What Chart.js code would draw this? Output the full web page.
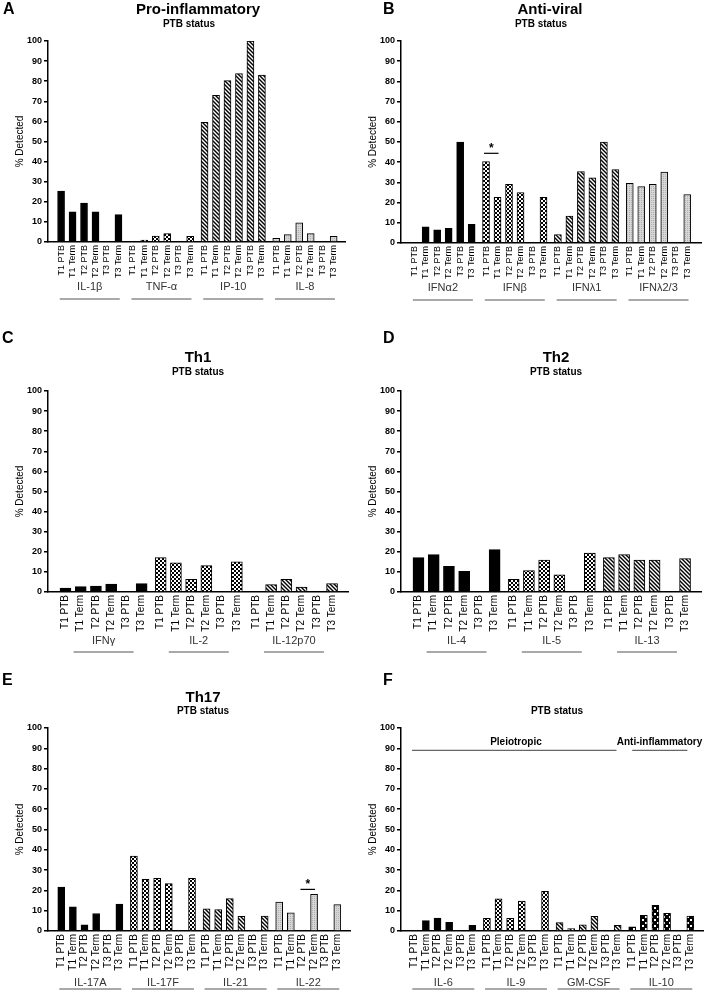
<html>
<head>
<title>PTB status cytokines</title>
<script src="https://cdn.jsdelivr.net/npm/chart.js@4.4.1/dist/chart.umd.min.js"></script>
<style>
  body { margin: 0; background: #fff; }
  canvas { position: absolute; }
</style>
</head>
<body>
<canvas id="a" width="353" height="330" style="left:0;top:0"></canvas>
<canvas id="b" width="354" height="330" style="left:353px;top:0"></canvas>
<canvas id="c" width="353" height="330" style="left:0;top:330px"></canvas>
<canvas id="d" width="354" height="330" style="left:353px;top:330px"></canvas>
<canvas id="e" width="353" height="331" style="left:0;top:660px"></canvas>
<canvas id="f" width="354" height="331" style="left:353px;top:660px"></canvas>
<script>
    // x labels, same six for every cytokine
    var timepoints = ['T1 PTB', 'T1 Term', 'T2 PTB', 'T2 Term', 'T3 PTB', 'T3 Term'];

    // A - pro-inflammatory
    var proGroups = ['IL-1β', 'TNF-α', 'IP-10', 'IL-8'];
    var il1b = [25.3, 15, 19.4, 15, 0, 13.6];
    var tnfa = [0, 1, 3, 4.2, 0, 2.8];
    var ip10 = [59.5, 73, 80.3, 83.8, 100, 83];
    var il8 = [1.8, 3.7, 9.5, 4.2, 0, 2.8];

    // B - anti-viral
    var viralGroups = ['IFNα2', 'IFNβ', 'IFNλ1', 'IFNλ2/3'];
    var ifna2 = [0, 8, 6.5, 7.3, 50, 9.2];
    var ifnb = [40.3, 22.6, 29, 25, 0, 22.6];
    var ifnl1 = [4.2, 13.3, 35.4, 32.3, 50, 36.3];
    var ifnl23 = [29.6, 27.9, 29, 35.1, 0, 24];

    // C - Th1
    var th1Groups = ['IFNγ', 'IL-2', 'IL-12p70'];
    var ifng = [2, 2.7, 3, 4, 0, 4.2];
    var il2 = [17.1, 14.5, 6.3, 13.1, 0, 15];
    var il12p70 = [0, 3.7, 6.3, 2.5, 0, 4.2];

    // D - Th2
    var th2Groups = ['IL-4', 'IL-5', 'IL-13'];
    var il4 = [17.1, 18.6, 12.8, 10.3, 0, 21.1];
    var il5 = [6.3, 10.6, 15.9, 8.6, 0, 19.4];
    var il13 = [17.1, 18.6, 15.9, 15.9, 0, 16.6];

    // E - Th17
    var th17Groups = ['IL-17A', 'IL-17F', 'IL-21', 'IL-22'];
    var il17a = [21.6, 11.9, 3.1, 8.6, 0, 13.3];
    var il17f = [36.9, 25.4, 25.9, 23.4, 0, 25.9];
    var il21 = [10.9, 10.5, 16, 7.2, 0, 7.4];
    var il22 = [14.2, 8.9, 0, 18.1, 0, 13];

    // F - pleiotropic / anti-inflammatory
    var otherGroups = ['IL-6', 'IL-9', 'GM-CSF', 'IL-10'];
    var il6 = [0, 5.1, 6.4, 4.3, 0, 2.8];
    var il9 = [6.3, 15.8, 6.3, 14.7, 0, 19.6];
    var gmcsf = [4.1, 1.2, 3.1, 7.2, 0, 2.8];
    var il10 = [2, 7.7, 12.7, 8.7, 0, 7.4];

    // significance bars: group, from, to, y
    var ifnbSig = [1, 0, 1, 44.4];
    var il22Sig = [3, 2, 3, 20.5];

    var gap = 6.25;
    var fam = '"Liberation Sans", Arial, sans-serif';

    // fill patterns
    function tile(size, draw) {
        var c = document.createElement('canvas');
        c.width = c.height = size;
        var x = c.getContext('2d');
        draw(x);
        return x.createPattern(c, 'repeat');
    }
    var solid = '#000';
    var checker = tile(4, function (x) {
        x.fillStyle = '#000'; x.fillRect(0, 0, 4, 4);
        x.fillStyle = '#fff'; x.fillRect(0, 0, 2, 2); x.fillRect(2, 2, 2, 2);
    });
    var stripes = tile(4, function (x) {
        x.fillStyle = '#fff'; x.fillRect(0, 0, 4, 4);
        x.strokeStyle = '#000'; x.lineWidth = 1.4;
        [-4, 0, 4].forEach(function (o) {
            x.beginPath(); x.moveTo(o - 1, -1); x.lineTo(o + 5, 5); x.stroke();
        });
    });
    var grey = tile(2, function (x) {
        x.fillStyle = '#d6d6d6'; x.fillRect(0, 0, 2, 2);
        x.fillStyle = '#b0b0b0'; x.fillRect(0, 0, 1, 1);
    });
    var dots = tile(6, function (x) {
        x.fillStyle = '#000'; x.fillRect(0, 0, 6, 6);
        x.fillStyle = '#fff'; x.fillRect(1, 1, 2, 2); x.fillRect(4, 4, 2, 2);
    });

    // draws letters, titles, group names, underlines and stars
    var decor = {
        id: 'decor',
        afterDraw: function (chart, args, o) {
            var ctx = chart.ctx, xs = chart.scales.x, ys = chart.scales.y, area = chart.chartArea;
            ctx.save();
            ctx.fillStyle = '#000';
            ctx.textBaseline = 'middle';
            ctx.textAlign = 'left';
            ctx.font = 'bold 16px ' + fam;
            ctx.fillText(o.letter[0], o.letter[1], o.letter[2]);
            ctx.textAlign = 'center';
            if (o.title) {
                ctx.font = 'bold 15px ' + fam;
                ctx.fillText(o.title[0], o.title[1], o.title[2]);
            }
            ctx.font = 'bold 10px ' + fam;
            ctx.fillText('PTB status', o.sub[0], o.sub[1]);

            ctx.font = '11px ' + fam;
            ctx.fillStyle = '#333';
            ctx.strokeStyle = '#555';
            ctx.lineWidth = 1.2;
            o.groups.forEach(function (name, g) {
                var cx = xs.getPixelForValue(g * gap + 2.5);
                ctx.fillText(name, cx, area.bottom + o.labelDy);
                ctx.beginPath();
                ctx.moveTo(cx - o.lineW / 2, area.bottom + o.lineDy);
                ctx.lineTo(cx + o.lineW / 2, area.bottom + o.lineDy);
                ctx.stroke();
            });

            ctx.fillStyle = '#000';
            ctx.strokeStyle = '#000';
            (o.stars || []).forEach(function (s) {
                var x1 = xs.getPixelForValue(s[0] * gap + s[1]) - 2;
                var x2 = xs.getPixelForValue(s[0] * gap + s[2]) + 1;
                var yy = ys.getPixelForValue(s[3]);
                ctx.beginPath(); ctx.moveTo(x1, yy); ctx.lineTo(x2, yy); ctx.stroke();
                ctx.font = 'bold 12px ' + fam;
                ctx.fillText('*', (x1 + x2) / 2, yy - 5);
            });

            (o.spans || []).forEach(function (s) {
                var x1 = xs.getPixelForValue(s[1]);
                var x2 = xs.getPixelForValue(s[2]);
                var yy = ys.getPixelForValue(s[3]);
                ctx.strokeStyle = '#666';
                ctx.beginPath(); ctx.moveTo(x1, yy); ctx.lineTo(x2, yy); ctx.stroke();
                ctx.font = 'bold 10px ' + fam;
                ctx.fillStyle = '#000';
                ctx.fillText(s[0], xs.getPixelForValue(s[4]), yy - 8);
            });
            ctx.restore();
        }
    };

    function panel(id, groups, series, fills, opt, deco) {
        var pos = [];
        groups.forEach(function (g, gi) {
            timepoints.forEach(function (t, i) { pos.push(gi * gap + i); });
        });
        var datasets = series.map(function (vals, gi) {
            return {
                label: groups[gi],
                data: vals.map(function (v, i) { return { x: gi * gap + i, y: v }; }),
                backgroundColor: fills[gi],
                borderColor: '#000',
                borderWidth: 1,
                barThickness: opt.bar,
                grouped: false
            };
        });
        deco.groups = groups;
        new Chart(document.getElementById(id), {
            type: 'bar',
            data: { datasets: datasets },
            options: {
                responsive: false,
                animation: false,
                layout: { padding: { top: opt.top, left: 10, right: opt.right, bottom: 0 } },
                plugins: { legend: { display: false }, tooltip: { enabled: false }, decor: deco },
                scales: {
                    x: {
                        type: 'linear', min: -0.6, max: opt.xmax, bounds: 'data',
                        grid: { display: false, drawTicks: false },
                        border: { color: '#000', width: 1.5 },
                        afterBuildTicks: function (s) { s.ticks = pos.map(function (v) { return { value: v }; }); },
                        afterFit: function (s) { s.height = opt.xh; },
                        ticks: {
                            autoSkip: false, minRotation: 90, maxRotation: 90, padding: 3,
                            color: '#000', font: { size: opt.lab, family: fam },
                            callback: function (v, i) { return timepoints[i % 6]; }
                        }
                    },
                    y: {
                        min: 0, max: 100,
                        ticks: { stepSize: 10, color: '#000', padding: 2, font: { size: 9, weight: 'bold', family: fam } },
                        grid: { drawOnChartArea: false, tickLength: 4, color: '#000', lineWidth: 1.5 },
                        border: { color: '#000', width: 1.5 },
                        title: { display: true, text: '% Detected', color: '#000', font: { size: 10, family: fam } },
                        afterFit: function (s) { s.width = 38; }
                    }
                }
            },
            plugins: [decor]
        });
    }

    panel('a', proGroups, [il1b, tnfa, ip10, il8], [solid, checker, stripes, grey],
        { top: 41, right: 8, xmax: 24.2, xh: 88, bar: 7, lab: 9 },
        { letter: ['A', 3, 10], title: ['Pro-inflammatory', 198, 10], sub: [189, 24], labelDy: 45, lineDy: 57, lineW: 60 });

    panel('b', viralGroups, [ifna2, ifnb, ifnl1, ifnl23], [solid, checker, stripes, grey],
        { top: 41, right: 6, xmax: 24.4, xh: 87, bar: 7, lab: 9 },
        { letter: ['B', 30, 10], title: ['Anti-viral', 197, 10], sub: [188, 24], labelDy: 45, lineDy: 57, lineW: 60, stars: [ifnbSig] });

    panel('c', th1Groups, [ifng, il2, il12p70], [solid, checker, stripes],
        { top: 61, right: 5, xmax: 18.0, xh: 68, bar: 11, lab: 10 },
        { letter: ['C', 2, 9], title: ['Th1', 198, 28], sub: [198, 42], labelDy: 49, lineDy: 60, lineW: 60 });

    panel('d', th2Groups, [il4, il5, il13], [solid, checker, stripes],
        { top: 61, right: 6, xmax: 18.0, xh: 68, bar: 11, lab: 10 },
        { letter: ['D', 30, 9], title: ['Th2', 203, 28], sub: [203, 42], labelDy: 49, lineDy: 60, lineW: 60 });

    panel('e', th17Groups, [il17a, il17f, il21, il22], [solid, checker, stripes, grey],
        { top: 68, right: 3, xmax: 24.3, xh: 60, bar: 7, lab: 10 },
        { letter: ['E', 2, 21], title: ['Th17', 203, 38], sub: [203, 51], labelDy: 52, lineDy: 58, lineW: 62, stars: [il22Sig] });

    panel('f', otherGroups, [il6, il9, gmcsf, il10], [solid, checker, stripes, dots],
        { top: 68, right: 4, xmax: 24.3, xh: 60, bar: 7, lab: 10 },
        { letter: ['F', 30, 21], sub: [204, 51], labelDy: 52, lineDy: 58, lineW: 62,
          spans: [['Pleiotropic', -0.2, 17.4, 89, 8.75], ['Anti-inflammatory', 18.75, 23.5, 89, 21.1]] });
</script>
</body>
</html>
